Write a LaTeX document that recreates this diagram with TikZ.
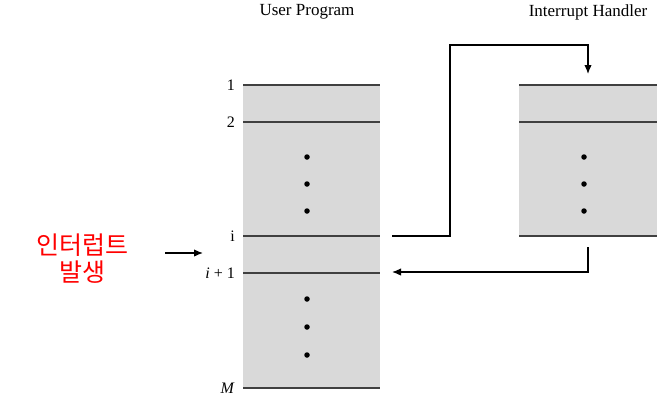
\documentclass[tikz,border=0pt]{standalone}
\usepackage{fontspec}
\setmainfont{Liberation Serif}
\newfontfamily\krfont{Noto Sans CJK KR}
\usetikzlibrary{positioning,arrows.meta}

\begin{document}
\begin{tikzpicture}[
    x=1pt, y=-1pt,
    prog/.style={fill=black!15, draw=none, minimum width=137pt, inner sep=0pt, anchor=north west},
    rule/.style={draw=black!75, line width=1.4pt},
    lbl/.style={anchor=east, inner sep=0pt, font=\fontsize{16}{18}\selectfont},
    title/.style={font=\fontsize{17}{19}\selectfont},
    dot/.style={circle, fill=black, inner sep=0pt, minimum size=5.5pt},
    flow/.style={-{Latex[length=9pt,width=7.5pt]}, line width=1.3pt}
]
    \useasboundingbox (0,0) rectangle (671,400);

    % Programs
    \node[prog, minimum height=303pt] (up) at (243,85) {};
    \node[prog, minimum width=138pt, minimum height=151pt] (ih) at (519,85) {};
    \node[title] (uptitle) at (307,12) {User Program};
    \node[title] (ihtitle) at (588,12) {Interrupt Handler};

    % Instruction lines
    \foreach \y in {85,122,236,273,388}
        \draw[rule] (243,\y) -- (380,\y);
    \foreach \y in {85,122,236}
        \draw[rule] (519,\y) -- (657,\y);

    \node[lbl] (l1) at (235,85) {1};
    \node[lbl] (l2) at (235,122) {2};
    \node[lbl] (li) at (235,236) {i};
    \node[lbl] (lip) at (235,273) {\textit{i} + 1};
    \node[lbl] (lm) at (235,388) {\textit{M}};

    % Dots
    \foreach \y in {157,184,211,299,327,355}
        \node[dot] at (307,\y) {};
    \foreach \y in {157,184,211}
        \node[dot] at (584,\y) {};

    % Control flow
    \coordinate (out) at (392,236);
    \coordinate (hin) at (588,74);
    \coordinate (hout) at (588,247);
    \coordinate (ret) at (392,272);
    \draw[flow] (out) -| (450,45) -| (hin);
    \draw[flow] (hout) |- (ret);

    % Interrupt
    \node[text=red, align=center, font=\krfont\fontsize{25}{27}\selectfont] (irq) at (82,259) {인터럽트\\발생};
    \coordinate (irqs) at (165,253);
    \coordinate (irqe) at (203,253);
    \draw[flow] (irqs) -- (irqe);
\end{tikzpicture}
\end{document}
